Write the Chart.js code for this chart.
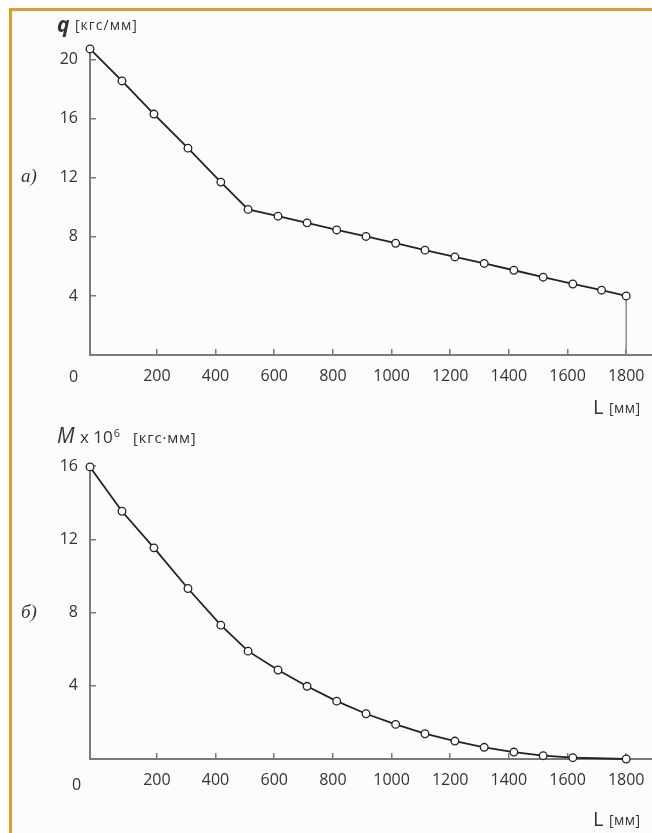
<!DOCTYPE html>
<html>
<head>
<meta charset="utf-8">
<script src="https://cdn.jsdelivr.net/npm/chart.js@4.4.0/dist/chart.umd.min.js"></script>
<style>
  body { margin: 0; width: 652px; height: 833px; background: #fff; position: relative; overflow: hidden;
         font-family: "Open Sans", sans-serif; color: #333; }
  #frame { position: absolute; left: 9px; top: 8px; right: -10px; bottom: -10px;
           border-top: 3px solid #e09b35; border-left: 3px solid #e09b35; background: #fcfcfc; }
  canvas { position: absolute; left: 0; }
  .t { position: absolute; white-space: nowrap; line-height: 1; }
  .serif { font-family: "Liberation Serif", serif; font-style: italic; }
</style>
</head>
<body>
<div id="frame"></div>
<canvas id="chartQ" width="652" height="400" style="top:0"></canvas>
<canvas id="chartM" width="652" height="433" style="top:400px"></canvas>

<span class="t" style="left:57px;top:14px;font-size:21px;font-weight:bold;font-style:italic">q</span>
<span class="t" style="left:75px;top:18px;font-size:14px;letter-spacing:1px">[кгс/мм]</span>
<span class="t serif" style="left:21px;top:166px;font-size:19px">а)</span>
<span class="t" style="left:69px;top:368px;font-size:16px">0</span>
<span class="t" style="left:593px;top:397px;font-size:20px">L</span>
<span class="t" style="left:609px;top:401px;font-size:14px;letter-spacing:0.5px">[мм]</span>

<span class="t" style="left:57px;top:425px;font-size:21px;font-style:italic">M</span>
<span class="t" style="left:80px;top:427px;font-size:17px">x 10<sup style="font-size:11px;vertical-align:6px;margin-left:1px">6</sup></span>
<span class="t" style="left:133px;top:430px;font-size:15px;letter-spacing:0.8px">[кгс·мм]</span>
<span class="t serif" style="left:21px;top:602px;font-size:19px">б)</span>
<span class="t" style="left:72px;top:776px;font-size:16px">0</span>
<span class="t" style="left:593px;top:809px;font-size:20px">L</span>
<span class="t" style="left:609px;top:813px;font-size:14px;letter-spacing:0.5px">[мм]</span>

<script>
// length positions (mm)
const lenQ = [-28, 81, 190, 306, 418, 511, 613, 712, 813, 913, 1014, 1114, 1216, 1316, 1417, 1517, 1618, 1716, 1800];
const qVals = [20.73, 18.56, 16.32, 14.01, 11.71, 9.86, 9.40, 8.95, 8.47, 8.03, 7.57, 7.10, 6.64, 6.20, 5.74, 5.27, 4.81, 4.39, 4.00];

const lenM = [-28, 81, 190, 306, 418, 511, 613, 712, 813, 913, 1014, 1114, 1216, 1316, 1417, 1517, 1618, 1800];
const mVals = [15.95, 13.53, 11.53, 9.31, 7.31, 5.89, 4.86, 3.97, 3.16, 2.47, 1.89, 1.38, 0.98, 0.64, 0.38, 0.18, 0.07, 0.0];

const xTicks = [200, 400, 600, 800, 1000, 1200, 1400, 1600, 1800];
const qTicks = [4, 8, 12, 16, 20];
const mTicks = [4, 8, 12, 16];

const axisGray = '#7a7a7a';
const textColor = '#333';

function toPoints(xs, ys) {
  return xs.map(function(x, i) { return {x: x, y: ys[i]} });
}

function makeChart(canvas, xs, ys, yTicks, yMax, pad, extra) {
  const datasets = [{
    data: toPoints(xs, ys),
    borderColor: '#222',
    borderWidth: 1.8,
    pointRadius: 3.8,
    pointBorderWidth: 1.3,
    pointBackgroundColor: '#fff',
    pointBorderColor: '#222',
    tension: 0,
    clip: false,
    order: 0
  }].concat(extra || []);

  return new Chart(canvas, {
    type: 'line',
    data: {datasets: datasets},
    options: {
      responsive: false,
      animation: false,
      layout: {autoPadding: false, padding: {left: 0, right: 0, top: pad.top, bottom: pad.bottom}},
      plugins: {legend: {display: false}, tooltip: {enabled: false}},
      scales: {
        x: {
          type: 'linear', min: -28, max: 1888,
          afterBuildTicks: function(s) { s.ticks = xTicks.map(function(v) { return {value: v} }) },
          afterFit: function(s) { s.height = 40; s.paddingLeft = 0; s.paddingRight = 0 },
          border: {color: axisGray, width: 2},
          grid: {drawOnChartArea: false, tickLength: -6, color: axisGray, lineWidth: 1.5},
          ticks: {padding: 18, color: textColor, font: {family: 'Open Sans', size: 16},
                  callback: function(v) { return String(v) }}
        },
        y: {
          type: 'linear', min: 0, max: yMax,
          afterBuildTicks: function(s) { s.ticks = yTicks.map(function(v) { return {value: v} }) },
          afterFit: function(s) { s.width = 90; s.paddingTop = 0; s.paddingBottom = 0 },
          border: {color: axisGray, width: 2},
          grid: {drawOnChartArea: false, tickLength: -6, color: axisGray, lineWidth: 1.5},
          ticks: {padding: 18, color: textColor, font: {family: 'Open Sans', size: 16},
                  callback: function(v) { return String(v) }}
        }
      }
    }
  });
}

// vertical drop line at the end of the q chart
const dropLine = {
  data: [{x: 1800, y: 0}, {x: 1800, y: qVals[qVals.length - 1]}],
  borderColor: '#8a8a8a',
  borderWidth: 1.5,
  pointRadius: 0,
  order: 1
};

makeChart(document.getElementById('chartQ'), lenQ, qVals, qTicks, 20.59, {top: 51, bottom: 5}, [dropLine]);
makeChart(document.getElementById('chartM'), lenM, mVals, mTicks, 16, {top: 66, bottom: 34});
</script>
</body>
</html>
